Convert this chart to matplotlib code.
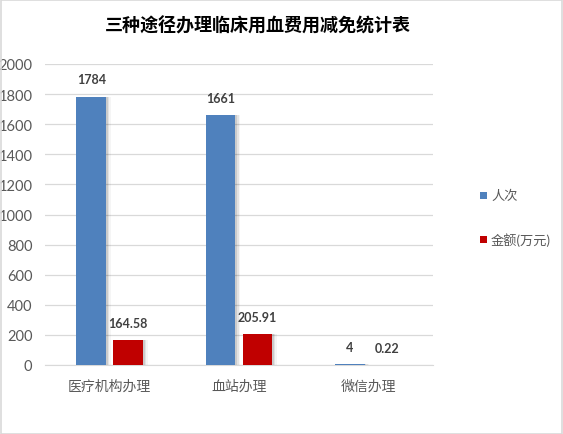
import matplotlib
matplotlib.use("Agg")
import matplotlib.pyplot as plt
from matplotlib.patches import Rectangle
import numpy as np

plt.rcParams['font.family'] = ['Lato', 'Noto Sans CJK SC', 'DejaVu Sans']

categories = ["医疗机构办理", "血站办理", "微信办理"]
people = [1784, 1661, 4]
amount = [164.58, 205.91, 0.22]
people_labels = ["1784", "1661", "4"]
amount_labels = ["164.58", "205.91", "0.22"]
series_names = ["人次", "金额(万元)"]
yticks = [0, 200, 400, 600, 800, 1000, 1200, 1400, 1600, 1800, 2000]

blue = "#4F81BD"
red = "#C00000"
text_gray = "#595959"
label_dark = "#404040"

fig = plt.figure(figsize=(5.63, 4.35), dpi=100)
fig.patch.set_facecolor("white")
fig.add_artist(Rectangle((0.001, 0.001), 0.997, 0.997, transform=fig.transFigure,
                         fill=False, edgecolor="#D9D9D9", linewidth=1.2))

ax = fig.add_axes([45 / 563, 1 - 366 / 435, 388 / 563, 301 / 435])
x = np.arange(len(categories))
w = 0.23
gap = 0.055
xb = x - (w + gap) / 2
xr = x + (w + gap) / 2

# soft drop shadows behind the bars
for xs, vals in ((xb, people), (xr, amount)):
    for xi, v in zip(xs, vals):
        for k, a in enumerate([0.10, 0.07, 0.04]):
            off = 0.012 * (k + 1)
            ax.add_patch(Rectangle((xi - w / 2 + off, 0), w, v, facecolor="black",
                                   alpha=a, edgecolor="none", zorder=2))

ax.bar(xb, people, width=w, color=blue, zorder=3)
ax.bar(xr, amount, width=w, color=red, zorder=3)

for xi, v, s in zip(xb, people, people_labels):
    ax.annotate(s, (xi, v), xytext=(0, 8), textcoords="offset points", ha="center",
                va="bottom", fontsize=9, fontweight="bold", color=label_dark)
for xi, v, s in zip(xr, amount, amount_labels):
    ax.annotate(s, (xi, v), xytext=(0, 8), textcoords="offset points", ha="center",
                va="bottom", fontsize=9, fontweight="bold", color=label_dark)

ax.set_xlim(-0.5, len(categories) - 0.5)
ax.set_ylim(0, 2000)
ax.set_yticks(yticks)
ax.set_yticklabels([str(t) for t in yticks], fontsize=10.5, color=text_gray)
ax.set_xticks(x)
ax.set_xticklabels(categories, fontsize=10, color=text_gray)
ax.tick_params(axis="both", length=0)
ax.tick_params(axis="x", pad=10)
ax.tick_params(axis="y", pad=9)
ax.grid(axis="y", color="#D9D9D9", linewidth=0.9, zorder=0)
ax.set_axisbelow(True)
for sp in ("top", "right", "left"):
    ax.spines[sp].set_visible(False)
ax.spines["bottom"].set_color("#D9D9D9")

fig.text(258 / 563, 1 - 25 / 435, "三种途径办理临床用血费用减免统计表", ha="center", va="center",
         fontsize=13, fontweight="bold", color="black")

# legend entries
for (yy, col, name) in ((196, blue, series_names[0]), (240, red, series_names[1])):
    fig.add_artist(Rectangle((480 / 563, 1 - (yy + 4) / 435), 7 / 563, 7 / 435,
                             transform=fig.transFigure, facecolor=col, edgecolor="none"))
    fig.text(491 / 563, 1 - yy / 435, name, ha="left", va="center", fontsize=9.5,
             color=text_gray)

fig.savefig("out.png", dpi=100)
